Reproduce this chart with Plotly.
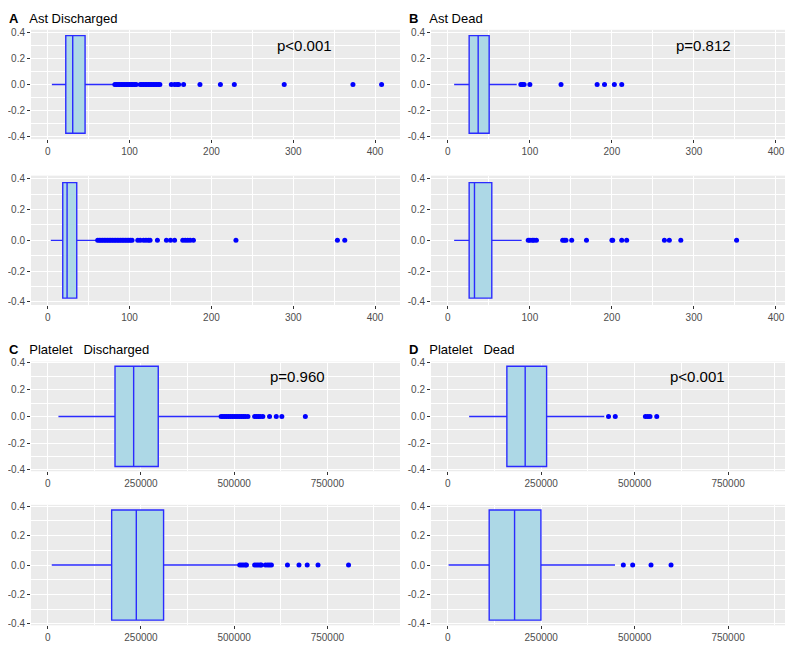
import plotly.graph_objects as go

# ---------------- data ----------------
panel_titles = ["<b>A</b>\u00a0\u00a0\u00a0Ast Discharged", "<b>B</b>\u00a0\u00a0\u00a0Ast Dead",
                "<b>C</b>\u00a0\u00a0\u00a0Platelet\u00a0\u00a0\u00a0Discharged",
                "<b>D</b>\u00a0\u00a0\u00a0Platelet\u00a0\u00a0\u00a0Dead"]
p_values = ["p<0.001", "p=0.812", "p=0.960", "p<0.001"]
p_x = [314, 312, 669000, 669000]

ast_ticks = [0, 100, 200, 300, 400]
plt_ticks = [0, 250000, 500000, 750000]
y_ticks = [-0.4, -0.2, 0.0, 0.2, 0.4]
y_ticklabels = ["-0.4", "-0.2", "0.0", "0.2", "0.4"]

# box stats: [lowerfence, q1, median, q3, upperfence]
ast_discharged_upper = [5, 22, 30.5, 45.6, 81.5]
ast_discharged_upper_out = [82, 84, 86, 88, 90, 92, 94, 96, 98, 100, 102, 104, 106, 108,
                            113, 115, 117, 119, 121, 123, 125, 127, 129, 131, 133, 135, 137,
                            151, 155, 158, 160, 166, 186, 211, 228, 289, 373, 408]
ast_discharged_lower = [3.7, 18.3, 23.6, 35.4, 60.7]
ast_discharged_lower_out = [61, 63, 65, 67, 69, 71, 73, 75, 77, 79, 81, 83, 85, 87, 89, 91, 93,
                            95, 97, 99, 101, 103, 110, 113, 117, 120, 123, 125, 134, 145, 150,
                            155, 165, 168, 171, 174, 178, 230, 354, 363]
ast_dead_upper = [7.7, 26, 37, 50.4, 84]
ast_dead_upper_out = [89, 91, 93, 100, 138, 182, 191, 203, 212]
ast_dead_lower = [7.7, 26, 32.5, 53.6, 90]
ast_dead_lower_out = [98, 100, 103, 105, 108, 140, 142, 144, 151, 169, 200, 201, 212, 218,
                      264, 270, 284, 352]
platelet_discharged_upper = [28600, 180400, 230400, 296400, 462500]
platelet_discharged_upper_out = [465000, 470000, 475000, 480000, 485000, 490000, 495000,
                                 500000, 505000, 510000, 515000, 520000, 525000, 530000,
                                 537000, 555000, 560000, 565000, 570000, 577000, 595000,
                                 613000, 628000, 691000]
platelet_discharged_lower = [10700, 171400, 237500, 310700, 513400]
platelet_discharged_lower_out = [515000, 520000, 525000, 530000, 533000, 555000, 560000,
                                 565000, 570000, 573000, 584000, 590000, 595000, 600000,
                                 643000, 674000, 696000, 725000, 807000]
platelet_dead_upper = [57000, 158000, 207000, 264300, 418750]
platelet_dead_upper_out = [430000, 448000, 528600, 535000, 541000, 559000]
platelet_dead_lower = [2000, 110700, 178600, 249100, 447300]
platelet_dead_lower_out = [469600, 494600, 543700, 597300]

# ---------------- layout helpers ----------------
W, H = 793, 646
col_px = [(23, 392), (423, 793)]
row_px = [(18, 128.7), (165.7, 296.7), (354, 465), (499, 621)]

panels = [
    # (col, row, stats, outliers, kind)
    (0, 0, ast_discharged_upper, ast_discharged_upper_out, "ast"),
    (0, 1, ast_discharged_lower, ast_discharged_lower_out, "ast"),
    (1, 0, ast_dead_upper, ast_dead_upper_out, "ast"),
    (1, 1, ast_dead_lower, ast_dead_lower_out, "ast"),
    (0, 2, platelet_discharged_upper, platelet_discharged_upper_out, "plt"),
    (0, 3, platelet_discharged_lower, platelet_discharged_lower_out, "plt"),
    (1, 2, platelet_dead_upper, platelet_dead_upper_out, "plt"),
    (1, 3, platelet_dead_lower, platelet_dead_lower_out, "plt"),
]

fig = go.Figure()
layout = {}
box_line = "#2b2bff"
tick_font = dict(family="Liberation Sans, Arial", size=10, color="#4D4D4D")

for i, (c, r, st, outl, kind) in enumerate(panels):
    n = i + 1
    xa = "x" if n == 1 else f"x{n}"
    ya = "y" if n == 1 else f"y{n}"
    fig.add_trace(go.Box(
        orientation="h", y=[0], lowerfence=[st[0]], q1=[st[1]], median=[st[2]],
        q3=[st[3]], upperfence=[st[4]], width=0.75, fillcolor="#ADD8E6",
        line=dict(color=box_line, width=1.4), boxpoints=False, whiskerwidth=0,
        xaxis=xa, yaxis=ya, showlegend=False, hoverinfo="skip"))
    fig.add_trace(go.Scatter(
        x=outl, y=[0] * len(outl), mode="markers",
        marker=dict(color="#0000FF", size=5), xaxis=xa, yaxis=ya,
        showlegend=False, hoverinfo="skip"))
    x0, x1 = col_px[c]
    t, b = row_px[r]
    if kind == "ast":
        xr = [-20.5, 430.5]
        xt = ast_ticks
        xminor = [50, 150, 250, 350]
    else:
        xr = [-45000, 945000]
        xt = plt_ticks
        xminor = [125000, 375000, 625000, 875000]
    yr = [-0.42, 0.42] if r < 2 else [-0.41, 0.41]
    layout["xaxis" if n == 1 else f"xaxis{n}"] = dict(
        domain=[x0 / W, x1 / W], anchor=ya,
        range=xr, tickvals=xt, ticktext=[str(v) for v in xt],
        ticks="outside", ticklen=3, tickwidth=1, tickcolor="#333333",
        tickfont=tick_font, showgrid=True, gridcolor="white", gridwidth=1,
        minor=dict(tickvals=xminor, showgrid=True, gridcolor="white", gridwidth=0.5, ticks=""),
        zeroline=False, showline=False, fixedrange=True)
    layout["yaxis" if n == 1 else f"yaxis{n}"] = dict(
        domain=[1 - b / H, 1 - t / H], anchor=xa,
        range=yr, tickvals=y_ticks, ticktext=y_ticklabels,
        ticks="outside", ticklen=3, tickwidth=1, tickcolor="#333333",
        tickfont=tick_font, showgrid=True, gridcolor="white", gridwidth=1,
        minor=dict(tickvals=[-0.3, -0.1, 0.1, 0.3], showgrid=True, gridcolor="white",
                   gridwidth=0.5, ticks=""),
        zeroline=False, showline=False, fixedrange=True)

annotations = []
title_pos = [(0, 7), (400, 7), (0, 342), (400, 342)]
for k, (tx, ty) in enumerate(title_pos):
    annotations.append(dict(
        text=panel_titles[k], xref="paper", yref="paper", x=tx / W, y=1 - ty / H,
        xanchor="left", yanchor="middle", showarrow=False, borderpad=0,
        font=dict(family="Liberation Sans, Arial", size=13, color="black")))

p_axes = [("x", "y"), ("x3", "y3"), ("x5", "y5"), ("x7", "y7")]
for k, (xa, ya) in enumerate(p_axes):
    annotations.append(dict(
        text=p_values[k], xref=xa, yref=ya, x=p_x[k], y=0.3,
        xanchor="center", yanchor="middle", showarrow=False,
        font=dict(family="Liberation Sans, Arial", size=15, color="black")))

fig.update_layout(
    width=W, height=H, margin=dict(l=0, r=0, t=0, b=0),
    paper_bgcolor="white", plot_bgcolor="#EBEBEB",
    annotations=annotations, showlegend=False, **layout)

fig.write_html("out.html")
